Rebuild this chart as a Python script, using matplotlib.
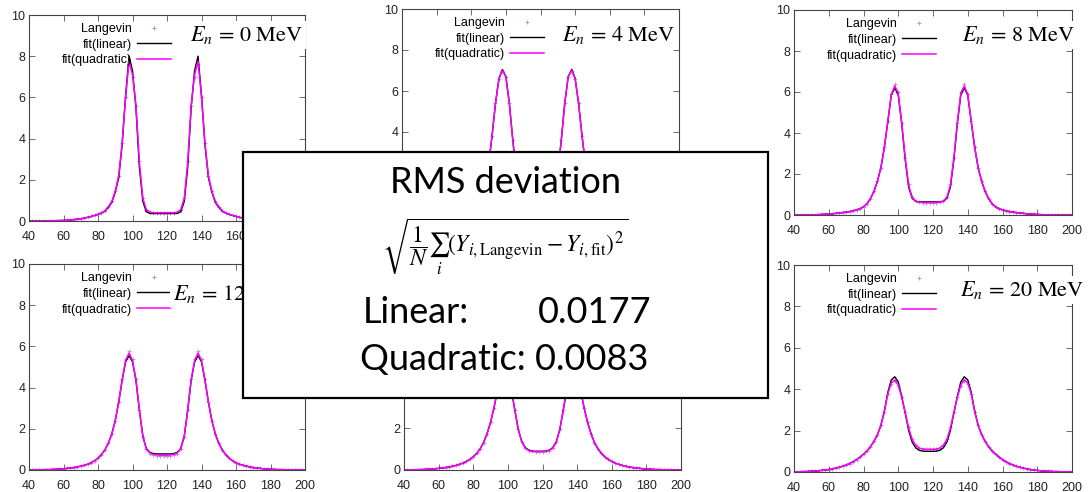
import numpy as np
import matplotlib.pyplot as plt
from matplotlib.patches import Rectangle

### DATA ###

# Fragment mass grid shared by all panels:
mass = np.arange(40, 201, 2)

# Neutron energies (MeV) of the six panels:
energies = [0, 4, 8, 12, 16, 20]

# E_n = 0 MeV:
lang_0 = [
    0.00, 0.00, 0.00, 0.00, 0.00, 0.01, 0.01, 0.01, 0.02, 0.02,
    0.03, 0.04, 0.05, 0.07, 0.09, 0.11, 0.14, 0.18, 0.22, 0.27,
    0.33, 0.40, 0.50, 0.70, 0.95, 1.45, 2.20, 3.80, 6.00, 7.60,
    7.00, 5.60, 2.90, 1.10, 0.55, 0.42, 0.39, 0.38, 0.38, 0.38,
    0.38, 0.38, 0.39, 0.42, 0.55, 1.10, 2.90, 5.60, 7.00, 7.60,
    6.00, 3.80, 2.20, 1.45, 0.95, 0.70, 0.50, 0.40, 0.33, 0.27,
    0.22, 0.18, 0.14, 0.11, 0.09, 0.07, 0.05, 0.04, 0.03, 0.02,
    0.02, 0.01, 0.01, 0.01, 0.00, 0.00, 0.00, 0.00, 0.00, 0.00, 0.00]
lin_0 = [
    0.00, 0.00, 0.00, 0.00, 0.00, 0.01, 0.01, 0.01, 0.02, 0.02,
    0.03, 0.04, 0.05, 0.07, 0.09, 0.11, 0.14, 0.18, 0.22, 0.27,
    0.32, 0.39, 0.48, 0.66, 0.90, 1.40, 2.10, 3.70, 6.10, 8.00,
    7.30, 5.50, 2.60, 0.95, 0.45, 0.37, 0.36, 0.36, 0.36, 0.36,
    0.36, 0.36, 0.36, 0.37, 0.45, 0.95, 2.60, 5.50, 7.30, 8.00,
    6.10, 3.70, 2.10, 1.40, 0.90, 0.66, 0.48, 0.39, 0.32, 0.27,
    0.22, 0.18, 0.14, 0.11, 0.09, 0.07, 0.05, 0.04, 0.03, 0.02,
    0.02, 0.01, 0.01, 0.01, 0.00, 0.00, 0.00, 0.00, 0.00, 0.00, 0.00]
quad_0 = [
    0.00, 0.00, 0.00, 0.00, 0.00, 0.01, 0.01, 0.01, 0.02, 0.02,
    0.03, 0.04, 0.05, 0.07, 0.09, 0.11, 0.14, 0.18, 0.22, 0.27,
    0.33, 0.40, 0.50, 0.70, 0.95, 1.45, 2.20, 3.80, 6.00, 7.75,
    7.10, 5.60, 2.85, 1.10, 0.56, 0.43, 0.40, 0.40, 0.40, 0.40,
    0.40, 0.40, 0.40, 0.43, 0.56, 1.10, 2.85, 5.60, 7.10, 7.75,
    6.00, 3.80, 2.20, 1.45, 0.95, 0.70, 0.50, 0.40, 0.33, 0.27,
    0.22, 0.18, 0.14, 0.11, 0.09, 0.07, 0.05, 0.04, 0.03, 0.02,
    0.02, 0.01, 0.01, 0.01, 0.00, 0.00, 0.00, 0.00, 0.00, 0.00, 0.00]

# E_n = 4 MeV:
lang_4 = [
    0.00, 0.00, 0.00, 0.01, 0.01, 0.01, 0.02, 0.02, 0.03, 0.04,
    0.05, 0.06, 0.08, 0.10, 0.13, 0.16, 0.20, 0.25, 0.32, 0.40,
    0.50, 0.62, 0.80, 1.05, 1.45, 2.40, 3.80, 5.40, 6.60, 7.00,
    6.70, 5.40, 3.60, 2.00, 1.10, 0.70, 0.55, 0.50, 0.48, 0.48,
    0.48, 0.50, 0.55, 0.70, 1.10, 2.00, 3.60, 5.40, 6.70, 7.00,
    6.60, 5.40, 3.80, 2.40, 1.45, 1.05, 0.80, 0.62, 0.50, 0.40,
    0.32, 0.25, 0.20, 0.16, 0.13, 0.10, 0.08, 0.06, 0.05, 0.04,
    0.03, 0.02, 0.02, 0.01, 0.01, 0.01, 0.00, 0.00, 0.00, 0.00, 0.00]
lin_4 = [
    0.00, 0.00, 0.00, 0.01, 0.01, 0.01, 0.02, 0.02, 0.03, 0.04,
    0.05, 0.06, 0.08, 0.10, 0.13, 0.16, 0.20, 0.25, 0.32, 0.40,
    0.50, 0.62, 0.80, 1.05, 1.45, 2.40, 3.80, 5.40, 6.62, 7.05,
    6.70, 5.40, 3.60, 2.00, 1.08, 0.68, 0.52, 0.47, 0.46, 0.46,
    0.46, 0.47, 0.52, 0.68, 1.08, 2.00, 3.60, 5.40, 6.70, 7.05,
    6.62, 5.40, 3.80, 2.40, 1.45, 1.05, 0.80, 0.62, 0.50, 0.40,
    0.32, 0.25, 0.20, 0.16, 0.13, 0.10, 0.08, 0.06, 0.05, 0.04,
    0.03, 0.02, 0.02, 0.01, 0.01, 0.01, 0.00, 0.00, 0.00, 0.00, 0.00]
quad_4 = [
    0.00, 0.00, 0.00, 0.01, 0.01, 0.01, 0.02, 0.02, 0.03, 0.04,
    0.05, 0.06, 0.08, 0.10, 0.13, 0.16, 0.20, 0.25, 0.32, 0.40,
    0.50, 0.62, 0.80, 1.05, 1.45, 2.40, 3.80, 5.40, 6.60, 7.00,
    6.70, 5.40, 3.60, 2.00, 1.10, 0.70, 0.55, 0.50, 0.49, 0.49,
    0.49, 0.50, 0.55, 0.70, 1.10, 2.00, 3.60, 5.40, 6.70, 7.00,
    6.60, 5.40, 3.80, 2.40, 1.45, 1.05, 0.80, 0.62, 0.50, 0.40,
    0.32, 0.25, 0.20, 0.16, 0.13, 0.10, 0.08, 0.06, 0.05, 0.04,
    0.03, 0.02, 0.02, 0.01, 0.01, 0.01, 0.00, 0.00, 0.00, 0.00, 0.00]

# E_n = 8 MeV:
lang_8 = [
    0.00, 0.00, 0.00, 0.00, 0.01, 0.01, 0.01, 0.02, 0.03, 0.04,
    0.05, 0.06, 0.08, 0.10, 0.12, 0.15, 0.17, 0.21, 0.25, 0.31,
    0.40, 0.55, 0.80, 1.15, 1.65, 2.30, 3.30, 4.60, 5.90, 6.40,
    6.00, 4.50, 2.80, 1.50, 0.90, 0.68, 0.62, 0.60, 0.59, 0.59,
    0.59, 0.60, 0.62, 0.68, 0.90, 1.50, 2.80, 4.50, 6.00, 6.40,
    5.90, 4.60, 3.30, 2.30, 1.65, 1.15, 0.80, 0.55, 0.40, 0.31,
    0.25, 0.21, 0.17, 0.15, 0.12, 0.10, 0.08, 0.06, 0.05, 0.04,
    0.03, 0.02, 0.01, 0.01, 0.01, 0.00, 0.00, 0.00, 0.00, 0.00, 0.00]
lin_8 = [
    0.00, 0.00, 0.00, 0.00, 0.01, 0.01, 0.01, 0.02, 0.03, 0.04,
    0.05, 0.06, 0.08, 0.10, 0.12, 0.15, 0.17, 0.21, 0.25, 0.31,
    0.40, 0.55, 0.80, 1.15, 1.65, 2.30, 3.30, 4.55, 5.85, 6.20,
    5.85, 4.45, 2.70, 1.35, 0.82, 0.67, 0.64, 0.64, 0.64, 0.64,
    0.64, 0.64, 0.64, 0.67, 0.82, 1.35, 2.70, 4.45, 5.85, 6.20,
    5.85, 4.55, 3.30, 2.30, 1.65, 1.15, 0.80, 0.55, 0.40, 0.31,
    0.25, 0.21, 0.17, 0.15, 0.12, 0.10, 0.08, 0.06, 0.05, 0.04,
    0.03, 0.02, 0.01, 0.01, 0.01, 0.00, 0.00, 0.00, 0.00, 0.00, 0.00]
quad_8 = [
    0.00, 0.00, 0.00, 0.00, 0.01, 0.01, 0.01, 0.02, 0.03, 0.04,
    0.05, 0.06, 0.08, 0.10, 0.12, 0.15, 0.17, 0.21, 0.25, 0.31,
    0.40, 0.55, 0.80, 1.15, 1.65, 2.30, 3.30, 4.58, 5.88, 6.30,
    5.95, 4.50, 2.78, 1.45, 0.87, 0.68, 0.62, 0.61, 0.61, 0.61,
    0.61, 0.61, 0.62, 0.68, 0.87, 1.45, 2.78, 4.50, 5.95, 6.30,
    5.88, 4.58, 3.30, 2.30, 1.65, 1.15, 0.80, 0.55, 0.40, 0.31,
    0.25, 0.21, 0.17, 0.15, 0.12, 0.10, 0.08, 0.06, 0.05, 0.04,
    0.03, 0.02, 0.01, 0.01, 0.01, 0.00, 0.00, 0.00, 0.00, 0.00, 0.00]

# E_n = 12 MeV:
lang_12 = [
    0.00, 0.00, 0.01, 0.01, 0.01, 0.02, 0.02, 0.03, 0.04, 0.05,
    0.06, 0.08, 0.10, 0.12, 0.15, 0.19, 0.23, 0.28, 0.35, 0.45,
    0.58, 0.75, 0.98, 1.30, 1.75, 2.40, 3.30, 4.40, 5.40, 5.80,
    5.40, 4.40, 2.90, 1.60, 1.00, 0.80, 0.72, 0.69, 0.68, 0.68,
    0.68, 0.69, 0.72, 0.80, 1.00, 1.60, 2.90, 4.40, 5.40, 5.80,
    5.40, 4.40, 3.30, 2.40, 1.75, 1.30, 0.98, 0.75, 0.58, 0.45,
    0.35, 0.28, 0.23, 0.19, 0.15, 0.12, 0.10, 0.08, 0.06, 0.05,
    0.04, 0.03, 0.02, 0.02, 0.01, 0.01, 0.01, 0.00, 0.00, 0.00, 0.00]
lin_12 = [
    0.00, 0.00, 0.01, 0.01, 0.01, 0.02, 0.02, 0.03, 0.04, 0.05,
    0.06, 0.08, 0.10, 0.12, 0.15, 0.19, 0.23, 0.28, 0.35, 0.45,
    0.58, 0.75, 0.98, 1.30, 1.75, 2.40, 3.30, 4.35, 5.25, 5.55,
    5.25, 4.35, 2.90, 1.65, 1.05, 0.86, 0.80, 0.78, 0.78, 0.78,
    0.78, 0.78, 0.80, 0.86, 1.05, 1.65, 2.90, 4.35, 5.25, 5.55,
    5.25, 4.35, 3.30, 2.40, 1.75, 1.30, 0.98, 0.75, 0.58, 0.45,
    0.35, 0.28, 0.23, 0.19, 0.15, 0.12, 0.10, 0.08, 0.06, 0.05,
    0.04, 0.03, 0.02, 0.02, 0.01, 0.01, 0.01, 0.00, 0.00, 0.00, 0.00]
quad_12 = [
    0.00, 0.00, 0.01, 0.01, 0.01, 0.02, 0.02, 0.03, 0.04, 0.05,
    0.06, 0.08, 0.10, 0.12, 0.15, 0.19, 0.23, 0.28, 0.35, 0.45,
    0.58, 0.75, 0.98, 1.30, 1.75, 2.40, 3.30, 4.38, 5.32, 5.68,
    5.32, 4.38, 2.90, 1.62, 1.02, 0.83, 0.76, 0.73, 0.72, 0.72,
    0.72, 0.73, 0.76, 0.83, 1.02, 1.62, 2.90, 4.38, 5.32, 5.68,
    5.32, 4.38, 3.30, 2.40, 1.75, 1.30, 0.98, 0.75, 0.58, 0.45,
    0.35, 0.28, 0.23, 0.19, 0.15, 0.12, 0.10, 0.08, 0.06, 0.05,
    0.04, 0.03, 0.02, 0.02, 0.01, 0.01, 0.01, 0.00, 0.00, 0.00, 0.00]

# E_n = 16 MeV:
lang_16 = [
    0.00, 0.01, 0.01, 0.01, 0.02, 0.02, 0.03, 0.04, 0.05, 0.06,
    0.08, 0.10, 0.12, 0.15, 0.18, 0.22, 0.27, 0.33, 0.41, 0.51,
    0.64, 0.80, 1.02, 1.32, 1.75, 2.30, 3.00, 3.85, 4.60, 4.95,
    4.65, 3.90, 2.90, 1.95, 1.35, 1.05, 0.93, 0.89, 0.87, 0.87,
    0.87, 0.89, 0.93, 1.05, 1.35, 1.95, 2.90, 3.90, 4.65, 4.95,
    4.60, 3.85, 3.00, 2.30, 1.75, 1.32, 1.02, 0.80, 0.64, 0.51,
    0.41, 0.33, 0.27, 0.22, 0.18, 0.15, 0.12, 0.10, 0.08, 0.06,
    0.05, 0.04, 0.03, 0.02, 0.02, 0.01, 0.01, 0.01, 0.00, 0.00, 0.00]
lin_16 = [
    0.00, 0.01, 0.01, 0.01, 0.02, 0.02, 0.03, 0.04, 0.05, 0.06,
    0.08, 0.10, 0.12, 0.15, 0.18, 0.22, 0.27, 0.33, 0.41, 0.51,
    0.64, 0.80, 1.02, 1.32, 1.75, 2.30, 3.00, 3.82, 4.55, 4.85,
    4.55, 3.85, 2.88, 1.95, 1.37, 1.08, 0.96, 0.91, 0.90, 0.90,
    0.90, 0.91, 0.96, 1.08, 1.37, 1.95, 2.88, 3.85, 4.55, 4.85,
    4.55, 3.82, 3.00, 2.30, 1.75, 1.32, 1.02, 0.80, 0.64, 0.51,
    0.41, 0.33, 0.27, 0.22, 0.18, 0.15, 0.12, 0.10, 0.08, 0.06,
    0.05, 0.04, 0.03, 0.02, 0.02, 0.01, 0.01, 0.01, 0.00, 0.00, 0.00]
quad_16 = [
    0.00, 0.01, 0.01, 0.01, 0.02, 0.02, 0.03, 0.04, 0.05, 0.06,
    0.08, 0.10, 0.12, 0.15, 0.18, 0.22, 0.27, 0.33, 0.41, 0.51,
    0.64, 0.80, 1.02, 1.32, 1.75, 2.30, 3.00, 3.85, 4.58, 4.92,
    4.62, 3.88, 2.90, 1.95, 1.36, 1.06, 0.94, 0.89, 0.88, 0.88,
    0.88, 0.89, 0.94, 1.06, 1.36, 1.95, 2.90, 3.88, 4.62, 4.92,
    4.58, 3.85, 3.00, 2.30, 1.75, 1.32, 1.02, 0.80, 0.64, 0.51,
    0.41, 0.33, 0.27, 0.22, 0.18, 0.15, 0.12, 0.10, 0.08, 0.06,
    0.05, 0.04, 0.03, 0.02, 0.02, 0.01, 0.01, 0.01, 0.00, 0.00, 0.00]

# E_n = 20 MeV:
lang_20 = [
    0.01, 0.01, 0.02, 0.02, 0.03, 0.04, 0.05, 0.06, 0.08, 0.10,
    0.12, 0.15, 0.19, 0.23, 0.28, 0.34, 0.41, 0.50, 0.60, 0.72,
    0.86, 1.02, 1.22, 1.48, 1.80, 2.25, 2.90, 3.75, 4.25, 4.38,
    4.15, 3.60, 2.90, 2.15, 1.60, 1.30, 1.17, 1.12, 1.10, 1.10,
    1.10, 1.12, 1.17, 1.30, 1.60, 2.15, 2.90, 3.60, 4.15, 4.38,
    4.25, 3.75, 2.90, 2.25, 1.80, 1.48, 1.22, 1.02, 0.86, 0.72,
    0.60, 0.50, 0.41, 0.34, 0.28, 0.23, 0.19, 0.15, 0.12, 0.10,
    0.08, 0.06, 0.05, 0.04, 0.03, 0.02, 0.02, 0.01, 0.01, 0.01, 0.01]
lin_20 = [
    0.01, 0.01, 0.02, 0.02, 0.03, 0.04, 0.05, 0.06, 0.08, 0.10,
    0.12, 0.15, 0.19, 0.23, 0.28, 0.34, 0.41, 0.50, 0.60, 0.72,
    0.86, 1.02, 1.22, 1.48, 1.80, 2.25, 2.95, 3.85, 4.45, 4.60,
    4.35, 3.65, 2.85, 2.00, 1.45, 1.17, 1.05, 1.01, 1.00, 1.00,
    1.00, 1.01, 1.05, 1.17, 1.45, 2.00, 2.85, 3.65, 4.35, 4.60,
    4.45, 3.85, 2.95, 2.25, 1.80, 1.48, 1.22, 1.02, 0.86, 0.72,
    0.60, 0.50, 0.41, 0.34, 0.28, 0.23, 0.19, 0.15, 0.12, 0.10,
    0.08, 0.06, 0.05, 0.04, 0.03, 0.02, 0.02, 0.01, 0.01, 0.01, 0.01]
quad_20 = [
    0.01, 0.01, 0.02, 0.02, 0.03, 0.04, 0.05, 0.06, 0.08, 0.10,
    0.12, 0.15, 0.19, 0.23, 0.28, 0.34, 0.41, 0.50, 0.60, 0.72,
    0.86, 1.02, 1.22, 1.48, 1.80, 2.25, 2.90, 3.78, 4.30, 4.45,
    4.20, 3.60, 2.88, 2.12, 1.58, 1.29, 1.16, 1.11, 1.10, 1.10,
    1.10, 1.11, 1.16, 1.29, 1.58, 2.12, 2.88, 3.60, 4.20, 4.45,
    4.30, 3.78, 2.90, 2.25, 1.80, 1.48, 1.22, 1.02, 0.86, 0.72,
    0.60, 0.50, 0.41, 0.34, 0.28, 0.23, 0.19, 0.15, 0.12, 0.10,
    0.08, 0.06, 0.05, 0.04, 0.03, 0.02, 0.02, 0.01, 0.01, 0.01, 0.01]

langevin = [lang_0, lang_4, lang_8, lang_12, lang_16, lang_20]
fit_linear = [lin_0, lin_4, lin_8, lin_12, lin_16, lin_20]
fit_quadratic = [quad_0, quad_4, quad_8, quad_12, quad_16, quad_20]

# RMS deviations:
rms_linear = '0.0177'
rms_quadratic = '0.0083'

### LAYOUT ###

W, H = 1090, 492

# Panel frames in pixels (left, top, right, bottom):
frames = [(29, 15, 305, 221), (402, 9, 679, 214), (794, 10, 1072, 215),
          (29, 264, 305, 470), (404, 262, 681, 470), (794, 265, 1072, 472)]

# Energy label anchors in pixels (left, baseline):
label_pos = [(190, 41), (562, 41), (962, 41), (173, 300), (560, 300), (960, 296)]

plt.rcParams['font.family'] = ['Liberation Sans', 'DejaVu Sans']
plt.rcParams['mathtext.fontset'] = 'stix'

fig = plt.figure(figsize=(W / 100, H / 100), dpi=100)


# Draw One Panel:
def draw_panel(k):
    l, t, r, b = frames[k]
    ax = fig.add_axes([l / W, (H - b) / H, (r - l) / W, (b - t) / H])
    ax.plot(mass, langevin[k], linestyle='none', marker='+', markersize=3.5,
            markeredgewidth=0.7, color='#a040e0', alpha=0.6, label='Langevin')
    ax.plot(mass, fit_linear[k], color='black', linewidth=1.0, label='fit(linear)')
    ax.plot(mass, fit_quadratic[k], color='#ff00ff', linewidth=1.1, label='fit(quadratic)')
    ax.set_xlim(40, 200)
    ax.set_ylim(0, 10)
    ax.set_xticks(range(40, 201, 20))
    ax.set_yticks(range(0, 11, 2))
    ax.tick_params(direction='in', top=True, right=True, length=4, width=0.6,
                   color='#555555', labelsize=9, labelcolor='#222222')
    ax.tick_params(axis='x', pad=7)
    ax.tick_params(axis='y', pad=2.5)
    for s in ax.spines.values():
        s.set_color('#444444')
        s.set_linewidth(0.8)

    # gnuplot style key: text left of sample
    w = r - l
    hgt = b - t
    ax.legend(loc='upper right', bbox_to_anchor=(142 / w, 1 - 8 / hgt),
              frameon=False, markerfirst=False, numpoints=1, fontsize=9,
              handlelength=2.7, handletextpad=0.4, borderpad=0,
              borderaxespad=0, labelspacing=0.3)

    x0, y0 = label_pos[k]
    fig.text(x0 / W, (H - y0) / H, r'$E_n\,=\,%d\ \mathrm{MeV}$' % energies[k],
             fontsize=16, ha='left', va='baseline', zorder=5,
             bbox=dict(facecolor='white', edgecolor='none', pad=2))


for k in range(6):
    draw_panel(k)

### RMS BOX ###

box = Rectangle((243 / W, (H - 398) / H), 525 / W, 246 / H, transform=fig.transFigure,
                facecolor='white', edgecolor='black', linewidth=1.6, zorder=10)
fig.add_artist(box)

box_font = ['Lato', 'DejaVu Sans']
fig.text(505 / W, (H - 193) / H, 'RMS deviation', family=box_font, fontsize=26,
         ha='center', va='baseline', zorder=11)
fig.text(505 / W, (H - 247) / H,
         r'$\sqrt{\dfrac{1}{N}\sum_i\left(Y_{i,\mathrm{Langevin}}-Y_{i,\mathrm{fit}}\right)^2}$',
         fontsize=17, ha='center', va='center', zorder=11)
fig.text(363 / W, (H - 323) / H, 'Linear:', family=box_font, fontsize=26,
         ha='left', va='baseline', zorder=11)
fig.text(538 / W, (H - 323) / H, rms_linear, family=box_font, fontsize=26,
         ha='left', va='baseline', zorder=11)
fig.text(360 / W, (H - 370) / H, 'Quadratic: ' + rms_quadratic, family=box_font,
         fontsize=26, ha='left', va='baseline', zorder=11)

fig.savefig('out.png', dpi=100, facecolor='white')
